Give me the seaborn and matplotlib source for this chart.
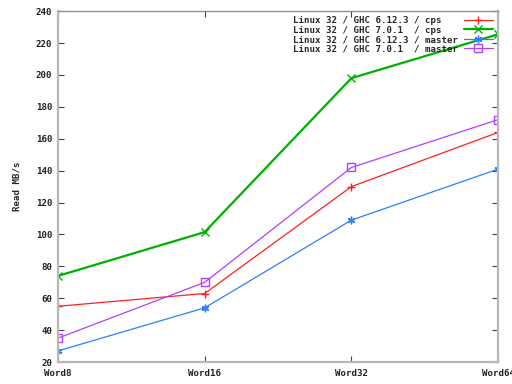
import matplotlib
matplotlib.use("Agg")
import matplotlib.pyplot as plt
import pandas as pd
import seaborn as sns

categories = ["Word8", "Word16", "Word32", "Word64"]
labels = [
    "Linux 32 / GHC 6.12.3 / cps",
    "Linux 32 / GHC 7.0.1  / cps",
    "Linux 32 / GHC 6.12.3 / master",
    "Linux 32 / GHC 7.0.1  / master",
]
ghc6_cps = [55, 63, 130, 164]
ghc7_cps = [74, 101.5, 198, 225.5]
ghc6_master = [27, 54, 109, 141]
ghc7_master = [35, 70, 142, 172]

yticks = list(range(20, 241, 20))

series = [ghc6_cps, ghc7_cps, ghc6_master, ghc7_master]
colors = ["#ff2020", "#00b000", "#2a7fff", "#b040ff"]
markers = ["+", "x", (6, 2, 0), "s"]
widths = [0.9, 1.6, 0.9, 0.9]

sns.set_style("white")
plt.rcParams["font.family"] = ["DejaVu Sans Mono"]
plt.rcParams["font.weight"] = "bold"

fig = plt.figure(figsize=(5.12, 3.84), dpi=100)
ax = fig.add_axes([0.113, 0.057, 0.86, 0.914])

for label, vals, c, m, lw in zip(labels, series, colors, markers, widths):
    df = pd.DataFrame({"x": range(len(categories)), "y": vals})
    sns.lineplot(
        data=df, x="x", y="y", ax=ax, color=c, linewidth=lw, marker=m,
        markersize=5.5, markeredgewidth=1.0,
        markerfacecolor="none" if m == "s" else c, markeredgecolor=c,
        label=label,
    )

ax.set_xlim(0, 3)
ax.set_ylim(20, 240)
ax.set_xticks(range(len(categories)))
ax.set_xticklabels(categories)
ax.set_yticks(yticks)
ax.set_xlabel("")
ax.set_ylabel("Read MB/s", fontsize=6.6, fontweight="bold", labelpad=10)
ax.tick_params(direction="in", length=4, width=0.8, color="#404040",
               labelsize=6.6, labelcolor="#202020", top=True, right=True,
               bottom=True, left=True, pad=4)
ax.tick_params(axis="x", pad=5)
for s in ax.spines.values():
    s.set_color("#b8b8b8")
    s.set_linewidth(1.6)
ax.spines["top"].set_linewidth(1.0)
ax.spines["top"].set_color("#909090")

# monospace text, pad so the legend entries line up on the left like gnuplot
handles, _ = ax.get_legend_handles_labels()
width = max(len(l) for l in labels)
ax.legend(handles, [l.ljust(width) for l in labels], loc="upper right",
          frameon=False, markerfirst=False,
          prop={"size": 6.6, "weight": "bold"}, handlelength=3.2,
          labelspacing=0.05, borderaxespad=0.15, handletextpad=0.6)

fig.savefig("out.png", dpi=100)
